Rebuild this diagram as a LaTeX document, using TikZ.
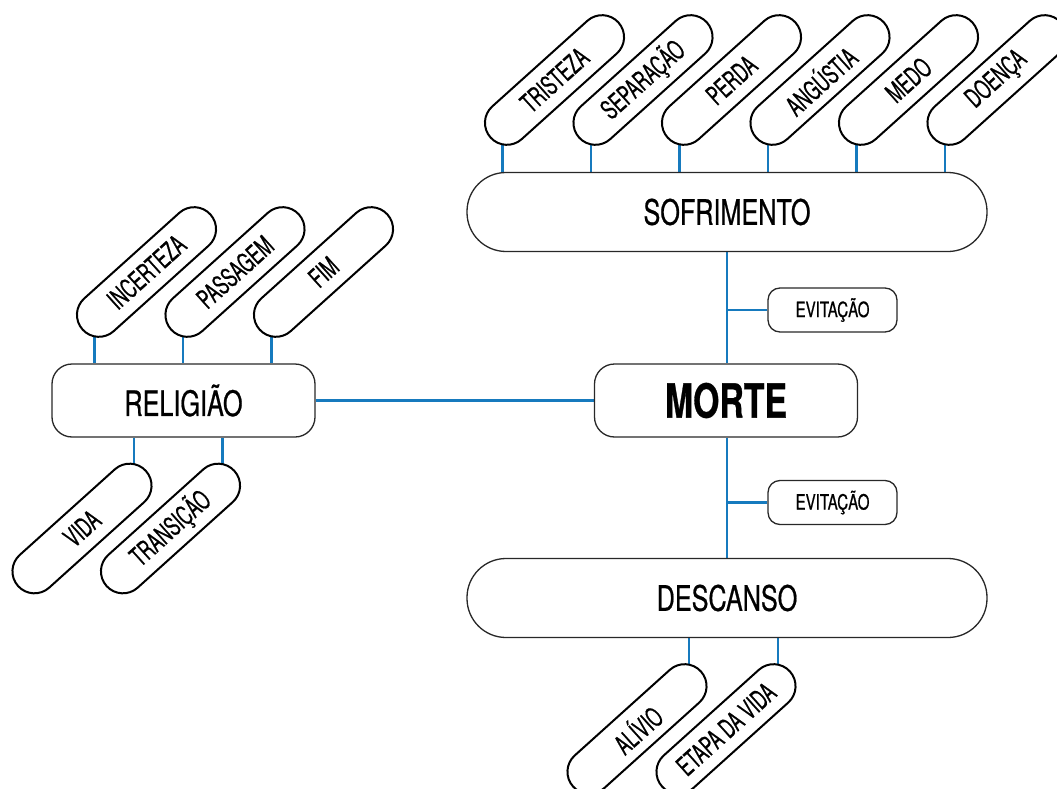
\documentclass[tikz,border=0pt]{standalone}
\usepackage{fontspec}
\setmainfont[FakeStretch=0.72,FakeBold=0.6]{TeX Gyre Heros}
\newfontfamily\condfont[FakeStretch=0.62,FakeBold=0.6]{TeX Gyre Heros}
\usetikzlibrary{backgrounds}
\definecolor{linkblue}{RGB}{22,122,190}
\definecolor{edgegray}{RGB}{40,40,40}
\begin{document}
\begin{tikzpicture}[x=1pt,y=-1pt,
  link/.style={draw=linkblue, line width=2.6pt},
  pill/.style={draw=black, line width=2pt, fill=white, rounded corners=22pt,
    minimum width=172pt, minimum height=44pt, inner sep=0pt, rotate=42,
    font=\condfont\fontsize{27}{27}\selectfont},
  bigpill/.style={draw=edgegray, line width=1.3pt, fill=white, rounded corners=39pt,
    minimum width=520pt, minimum height=79pt, inner sep=0pt,
    font=\fontsize{35}{35}\selectfont},
  mainbox/.style={draw=edgegray, line width=1.3pt, fill=white, rounded corners=20pt,
    minimum width=263pt, minimum height=73pt, inner sep=0pt},
  evbox/.style={draw=edgegray, line width=1.3pt, fill=white, rounded corners=12pt,
    minimum width=129pt, minimum height=44pt, inner sep=0pt,
    font=\fontsize{21}{21}\selectfont}
]
\useasboundingbox (0,0) rectangle (1057,789);

% main nodes
\node[bigpill] (sof) at (727,212) {SOFRIMENTO};
\node[mainbox, font=\fontsize{47}{47}\selectfont\bfseries] (morte) at (726,400.5) {MORTE};
\node[mainbox, font=\fontsize{35}{35}\selectfont] (rel) at (183.5,400.5) {RELIGIÃO};
\node[bigpill] (desc) at (727,598) {DESCANSO};
\node[evbox] (ev1) at (832.5,310) {EVITAÇÃO};
\node[evbox] (ev2) at (832.5,502.5) {EVITAÇÃO};

% satellites of SOFRIMENTO
\node[pill] (tri) at (554.5,80) {TRISTEZA};
\node[pill] (sep) at (643,80) {SEPARAÇÃO};
\node[pill] (per) at (731.5,80) {PERDA};
\node[pill] (ang) at (820,80) {ANGÚSTIA};
\node[pill] (med) at (908.5,80) {MEDO};
\node[pill] (doe) at (997,80) {DOENÇA};

% satellites of RELIGIÃO
\node[pill] (inc) at (146.5,272) {INCERTEZA};
\node[pill] (pas) at (235,272) {PASSAGEM};
\node[pill] (fim) at (323.5,272) {FIM};
\node[pill] (vid) at (82,528.5) {VIDA};
\node[pill] (tra) at (170.5,528.5) {TRANSIÇÃO};

% satellites of DESCANSO
\node[pill] (ali) at (637,729) {ALÍVIO};
\node[pill] (eta) at (726,729) {ETAPA DA VIDA};

\begin{scope}[on background layer]
  % spine
  \draw[link] (sof.south) -- (sof.south |- morte.north);
  \draw[link] (sof.south |- morte.south) -- (sof.south |- desc.north);
  \draw[link] (rel.east) -- (morte.west);
  \draw[link] (ev1.west) -- (ev1.west -| sof.south);
  \draw[link] (ev2.west) -- (ev2.west -| sof.south);
  % satellite connectors
  \foreach \p in {tri,sep,per,ang,med,doe}
    \draw[link] ([xshift=-52pt,yshift=-45pt]\p.center) -- ([xshift=-52pt]\p.center |- sof.north);
  \foreach \p in {inc,pas,fim}
    \draw[link] ([xshift=-52pt,yshift=-45pt]\p.center) -- ([xshift=-52pt]\p.center |- rel.north);
  \foreach \p in {vid,tra}
    \draw[link] ([xshift=52pt,yshift=45pt]\p.center) -- ([xshift=52pt]\p.center |- rel.south);
  \foreach \p in {ali,eta}
    \draw[link] ([xshift=52pt,yshift=45pt]\p.center) -- ([xshift=52pt]\p.center |- desc.south);
\end{scope}
\end{tikzpicture}
\end{document}
